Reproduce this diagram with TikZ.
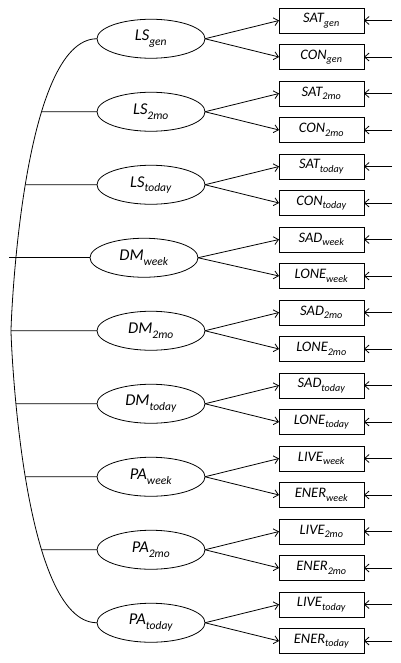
\documentclass[tikz,border=0pt]{standalone}
\usepackage{fontspec}
\setmainfont{Carlito}
\usetikzlibrary{arrows.meta, positioning, calc, intersections, shapes.geometric}

\newcommand{\lowsub}[1]{\textsubscript{\raisebox{-0.3ex}{#1}}}

\begin{document}
\begin{tikzpicture}[
    node distance=11.5pt,
    line width=0.8pt,
    box/.style={
        rectangle,
        draw,
        minimum width=85pt,
        minimum height=25pt,
        inner sep=0pt,
        outer sep=0pt,
        font=\fontsize{14.5}{16}\selectfont\itshape
    },
    oval/.style={
        ellipse,
        draw,
        minimum width=108pt,
        minimum height=39pt,
        inner sep=0pt,
        outer sep=0pt,
        font=\fontsize{16.5}{18}\selectfont\itshape
    },
    >={Straight Barb[length=4.5pt,width=8pt]}
]

\useasboundingbox (0,0) rectangle (400pt,-663pt);

% indicator boxes
\node[box] (satgen) at (321.5pt,-20.5pt) {SAT\lowsub{gen}};
\node[box, below=of satgen] (congen) {CON\lowsub{gen}};
\node[box, below=of congen] (sattwomo) {SAT\lowsub{2mo}};
\node[box, below=of sattwomo] (contwomo) {CON\lowsub{2mo}};
\node[box, below=of contwomo] (sattoday) {SAT\lowsub{today}};
\node[box, below=of sattoday] (contoday) {CON\lowsub{today}};
\node[box, below=of contoday] (sadweek) {SAD\lowsub{week}};
\node[box, below=of sadweek] (loneweek) {LONE\lowsub{week}};
\node[box, below=of loneweek] (sadtwomo) {SAD\lowsub{2mo}};
\node[box, below=of sadtwomo] (lonetwomo) {LONE\lowsub{2mo}};
\node[box, below=of lonetwomo] (sadtoday) {SAD\lowsub{today}};
\node[box, below=of sadtoday] (lonetoday) {LONE\lowsub{today}};
\node[box, below=of lonetoday] (liveweek) {LIVE\lowsub{week}};
\node[box, below=of liveweek] (enerweek) {ENER\lowsub{week}};
\node[box, below=of enerweek] (livetwomo) {LIVE\lowsub{2mo}};
\node[box, below=of livetwomo] (enertwomo) {ENER\lowsub{2mo}};
\node[box, below=of enertwomo] (livetoday) {LIVE\lowsub{today}};
\node[box, below=of livetoday] (enertoday) {ENER\lowsub{today}};

% factors
\node[oval, left=74pt of $(satgen.west)!0.5!(congen.west)$] (lsgen) {LS\lowsub{gen}};
\node[oval, left=74pt of $(sattwomo.west)!0.5!(contwomo.west)$] (lstwomo) {LS\lowsub{2mo}};
\node[oval, left=74pt of $(sattoday.west)!0.5!(contoday.west)$] (lstoday) {LS\lowsub{today}};
\node[oval, left=81pt of $(sadweek.west)!0.5!(loneweek.west)$] (dmweek) {DM\lowsub{week}};
\node[oval, left=74pt of $(sadtwomo.west)!0.5!(lonetwomo.west)$] (dmtwomo) {DM\lowsub{2mo}};
\node[oval, left=74pt of $(sadtoday.west)!0.5!(lonetoday.west)$] (dmtoday) {DM\lowsub{today}};
\node[oval, left=74pt of $(liveweek.west)!0.5!(enerweek.west)$] (paweek) {PA\lowsub{week}};
\node[oval, left=74pt of $(livetwomo.west)!0.5!(enertwomo.west)$] (patwomo) {PA\lowsub{2mo}};
\node[oval, left=74pt of $(livetoday.west)!0.5!(enertoday.west)$] (patoday) {PA\lowsub{today}};

% loadings
\draw[->] (lsgen.east) -- (satgen.west);
\draw[->] (lsgen.east) -- (congen.west);
\draw[->] (lstwomo.east) -- (sattwomo.west);
\draw[->] (lstwomo.east) -- (contwomo.west);
\draw[->] (lstoday.east) -- (sattoday.west);
\draw[->] (lstoday.east) -- (contoday.west);
\draw[->] (dmweek.east) -- (sadweek.west);
\draw[->] (dmweek.east) -- (loneweek.west);
\draw[->] (dmtwomo.east) -- (sadtwomo.west);
\draw[->] (dmtwomo.east) -- (lonetwomo.west);
\draw[->] (dmtoday.east) -- (sadtoday.west);
\draw[->] (dmtoday.east) -- (lonetoday.west);
\draw[->] (paweek.east) -- (liveweek.west);
\draw[->] (paweek.east) -- (enerweek.west);
\draw[->] (patwomo.east) -- (livetwomo.west);
\draw[->] (patwomo.east) -- (enertwomo.west);
\draw[->] (patoday.east) -- (livetoday.west);
\draw[->] (patoday.east) -- (enertoday.west);

% residuals
\foreach \b in {satgen, congen, sattwomo, contwomo, sattoday, contoday,
                sadweek, loneweek, sadtwomo, lonetwomo, sadtoday, lonetoday,
                liveweek, enerweek, livetwomo, enertwomo, livetoday, enertoday} {
    \coordinate[right=28pt of \b.east] (\b-in);
    \draw[->] (\b-in) -- (\b.east);
}

% correlation spine
\coordinate (spinemid) at ($(lsgen.west)!0.5!(patoday.west) + (-86pt,0)$);
\draw[name path=spine] (lsgen.west) .. controls +(-75pt,0) and +(0,10pt) .. (spinemid)
    .. controls +(0,-10pt) and +(-75pt,0) .. (patoday.west);

\foreach \e in {lstwomo, lstoday, dmtwomo, dmtoday, paweek, patwomo} {
    \path[name path=ray-\e] (\e.west) -- +(-100pt,0);
    \draw[name intersections={of=spine and ray-\e, by=\e-j}] (\e-j) -- (\e.west);
}

\coordinate[left=81pt of dmweek.west] (dmstub);
\draw (dmstub) -- (dmweek.west);

\end{tikzpicture}
\end{document}
